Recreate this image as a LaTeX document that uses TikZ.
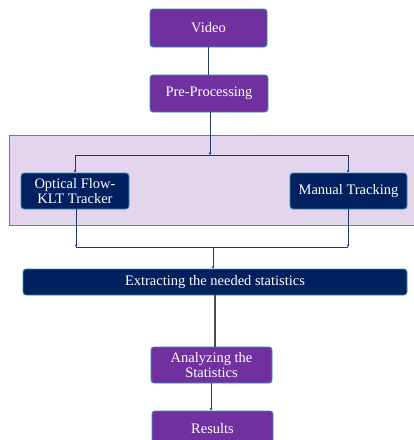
\documentclass[tikz,border=0pt]{standalone}
\usepackage{fontspec}
\setmainfont{Liberation Serif}
\newfontfamily\boxfont{Liberation Serif}
\usetikzlibrary{positioning,arrows.meta,calc}
\definecolor{boxpurple}{HTML}{7030A0}
\definecolor{boxnavy}{HTML}{002060}
\definecolor{boxedge}{HTML}{3A8FB0}
\definecolor{bandfill}{HTML}{E4D5EF}
\definecolor{bandedge}{HTML}{9A5CC0}
\definecolor{linknavy}{HTML}{1F3864}

\begin{document}
\begin{tikzpicture}[x=1pt,y=-1pt,on grid,node distance=1cm,
  procbox/.style={draw=boxedge,line width=0.9pt,fill=boxpurple,rounded corners=3pt,
    text=white,align=center,font=\boxfont\fontsize{14.5}{15}\selectfont,inner sep=0pt},
  trackbox/.style={procbox,fill=boxnavy},
  link/.style={draw=linknavy,line width=0.8pt},
  >={Stealth[length=2.5pt,width=2.5pt]}]
\useasboundingbox (0,0) rectangle (414,440);
% tracking band
\draw[fill=bandfill,draw=bandedge,line width=0.8pt] (9,135) rectangle (425,225);
\node[procbox,minimum width=117pt,minimum height=38pt](video) at (208.5,28){Video};
\node[procbox,minimum width=118pt,minimum height=37pt](prep)[below=65.5pt of video,xshift=0.5pt]{Pre-Processing};
\node[trackbox,minimum width=108pt,minimum height=36pt](klt) at (75,191){Optical Flow-\\KLT Tracker};
\node[trackbox,minimum width=117pt,minimum height=36pt](manual) at (348.5,191){Manual Tracking};
\node[trackbox,minimum width=384pt,minimum height=26pt](extract) at (215,282){Extracting the needed statistics};
\node[procbox,minimum width=121pt,minimum height=36pt](analyze) at (211.5,365){Analyzing the\\Statistics};
\node[procbox,minimum width=121pt,minimum height=36pt](results) at (212.5,429){Results};
\coordinate (split) at (210,155);
\coordinate (splitl) at (75,155);
\coordinate (splitr) at (348,155);
\coordinate (joinl) at (76,247);
\coordinate (joinr) at (348,247);
\coordinate (join) at (213,247);
\coordinate (stat) at (215,300);
\coordinate (res) at (211,400);
% links
\draw[link] (video.south) -- (video.south|-prep.north);
\draw[link,->] (split|-prep.south) -- (split);
\draw[link] (splitl) -- (splitr);
\draw[link,->] (splitl) -- (splitl|-klt.north);
\draw[link,->] (splitr) -- (splitr|-manual.north);
\draw[link,->] (joinl|-klt.south) -- (joinl);
\draw[link,->] (joinr|-manual.south) -- (joinr);
\draw[link] (joinl) -- (joinr);
\draw[link,->] (join) -- (join|-extract.north);
\draw[draw=black!70,line width=1.3pt] (stat|-extract.south) -- (stat|-analyze.north);
\draw[link,->] (res|-analyze.south) -- (res|-results.north);
\end{tikzpicture}
\end{document}
